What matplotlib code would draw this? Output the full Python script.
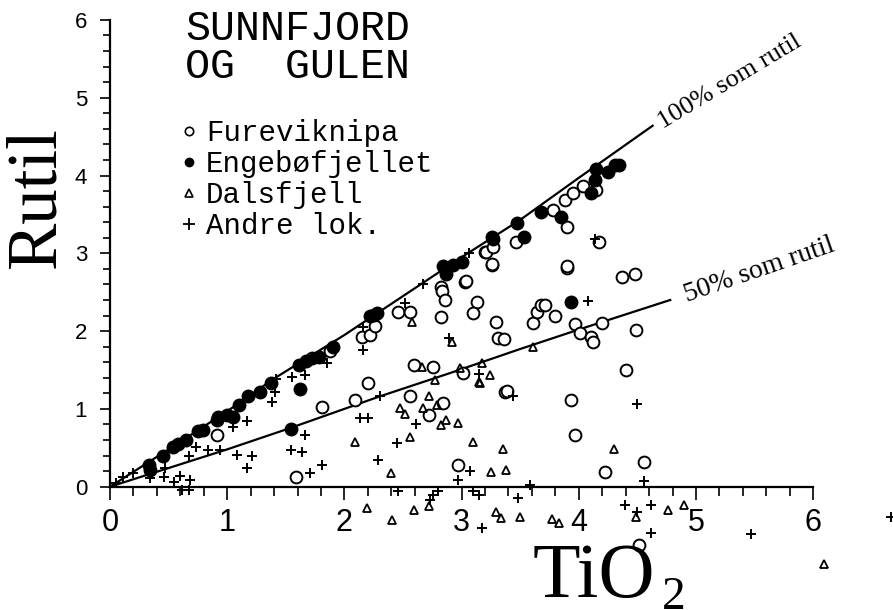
"""Rutil vs TiO2, Sunnfjord og Gulen -- redrawn from the scanned figure."""

import matplotlib

matplotlib.use("Agg")
import matplotlib.pyplot as plt
from matplotlib.lines import Line2D
from matplotlib.ticker import FixedLocator

# --- data (TiO2, Rutil) -----------------------------------------------------
fure_x = [0.91, 1.59, 1.81, 1.88, 2.09, 2.20, 2.15, 2.22, 2.26, 2.46, 2.56,
          2.82, 2.83, 2.86, 2.82, 3.03, 3.13, 3.10, 3.20, 3.26, 3.29, 3.31,
          2.59, 2.76, 3.01, 2.56, 2.72, 2.84, 3.37, 2.97, 3.90, 4.17, 4.37,
          4.48, 3.36, 3.61, 3.64, 3.68, 3.71, 3.80, 3.97, 4.01, 4.10, 4.12,
          4.20, 4.49, 4.40, 3.93, 3.97, 3.39, 3.90, 3.88, 3.95, 4.04, 4.15,
          3.78, 3.46, 3.21, 3.27, 3.26, 3.90, 4.22, 4.56, 4.51, 3.04]
fure_y = [0.66, 0.13, 1.03, 1.74, 1.11, 1.33, 1.93, 1.95, 2.06, 2.25, 2.25,
          2.57, 2.51, 2.40, 2.18, 2.63, 2.38, 2.23, 3.02, 2.85, 2.12, 1.91,
          1.56, 1.54, 1.46, 1.17, 0.92, 1.08, 1.22, 0.28, 2.81, 3.15, 2.70,
          2.73, 1.90, 2.11, 2.25, 2.34, 2.34, 2.20, 2.09, 1.98, 1.93, 1.86,
          2.11, 2.02, 1.50, 1.11, 0.66, 1.23, 3.34, 3.68, 3.77, 3.86, 3.82,
          3.56, 3.15, 3.02, 3.08, 2.86, 2.84, 0.19, 0.32, -0.75, 2.64]

enge_x = [0.33, 0.34, 0.45, 0.54, 0.58, 0.65, 0.75, 0.79, 0.91, 0.92, 1.00,
          1.05, 1.10, 1.18, 1.28, 1.37, 1.62, 1.54, 1.61, 1.67, 1.72, 1.78,
          1.90, 2.22, 2.28, 2.25, 2.87, 2.93, 3.00, 2.87, 2.84, 3.27, 3.26,
          3.47, 3.53, 3.68, 3.85, 4.10, 4.14, 4.15, 4.25, 4.31, 4.34, 3.93]
enge_y = [0.28, 0.21, 0.39, 0.51, 0.55, 0.60, 0.71, 0.73, 0.86, 0.90, 0.92,
          0.90, 1.05, 1.16, 1.22, 1.33, 1.26, 0.74, 1.56, 1.62, 1.66, 1.67,
          1.80, 2.19, 2.23, 2.21, 2.81, 2.85, 2.89, 2.74, 2.84, 3.19, 3.21,
          3.39, 3.21, 3.53, 3.47, 3.77, 3.94, 4.09, 4.05, 4.13, 4.13, 2.38]

dals_x = [2.09, 2.40, 2.47, 2.52, 2.56, 2.72, 2.67, 2.82, 2.87, 2.97, 2.79,
          2.58, 2.66, 2.77, 3.10, 3.35, 3.25, 3.38, 3.16, 3.61, 3.17, 2.99,
          3.15, 3.24, 2.92, 4.30, 2.19, 2.41, 2.59, 2.72, 3.29, 3.34, 3.50,
          3.77, 3.83, 4.49, 4.76, 4.90, 6.09]
dals_y = [0.58, 0.17, 1.01, 0.94, 0.64, 1.16, 1.01, 0.79, 0.86, 0.82, 1.05,
          2.12, 1.54, 1.37, 0.57, 0.49, 0.19, 0.21, 1.33, 1.80, 1.59, 1.52,
          1.35, 1.43, 1.86, 0.48, -0.28, -0.43, -0.30, -0.25, -0.32, -0.40,
          -0.39, -0.42, -0.47, -0.39, -0.30, -0.24, -0.99]

andre_x = [0.05, 0.11, 0.20, 0.34, 0.47, 0.46, 0.60, 0.55, 0.68, 0.67, 0.61,
           0.67, 0.73, 0.84, 0.94, 1.05, 1.17, 1.08, 1.21, 1.17, 1.38, 1.41,
           1.42, 1.55, 1.66, 1.54, 1.64, 1.66, 1.71, 1.81, 1.85, 2.16, 2.16,
           2.13, 2.20, 2.29, 2.30, 2.45, 2.61, 2.46, 2.73, 2.76, 2.80, 2.52,
           2.67, 2.89, 3.06, 2.97, 3.07, 3.10, 3.15, 3.17, 3.48, 3.58, 4.39,
           4.50, 4.62, 4.62, 4.56, 4.50, 5.47, 6.66, 4.08, 3.15, 3.44, 4.14]
andre_y = [0.05, 0.13, 0.17, 0.11, 0.24, 0.13, 0.14, 0.06, 0.08, -0.04, -0.04,
           0.39, 0.51, 0.47, 0.47, 0.77, 0.84, 0.41, 0.39, 0.24, 1.09, 1.22,
           1.39, 1.41, 1.44, 0.47, 0.45, 0.66, 0.17, 0.28, 1.59, 2.05, 1.76,
           0.88, 0.88, 0.34, 1.16, 0.56, 0.81, -0.05, -0.17, -0.11, -0.05, 2.36,
           2.61, 1.91, 3.01, 0.09, 0.20, -0.06, -0.11, -0.53, -0.14, 0.02, -0.24,
           -0.32, -0.24, -0.59, 0.07, 1.06, -0.61, -0.39, 2.39, 1.45, 1.16, 3.19]

# reference curves
full_x = [0.0, 0.5, 1.0, 1.4, 2.0, 2.5, 3.0, 3.5, 4.0, 4.63]
full_y = [0.0, 0.48, 0.97, 1.39, 1.95, 2.45, 2.95, 3.43, 3.97, 4.64]
half_x = [0.0, 0.5, 1.0, 1.53, 2.3, 2.9, 3.5, 4.0, 4.78]
half_y = [0.0, 0.24, 0.48, 0.75, 1.16, 1.46, 1.77, 2.02, 2.40]

groups = ["Fureviknipa", "Engebøfjellet", "Dalsfjell", "Andre lok."]
major_ticks = [0, 1, 2, 3, 4, 5, 6]
minor_ticks = [i / 5 for i in range(31)]

MONO = "Liberation Mono"
SERIF = "Liberation Serif"
SANS = "Liberation Sans"


def main():
    fig = plt.figure(figsize=(8.93, 6.10), dpi=100)
    ax = fig.add_axes([0, 0, 1, 1])
    ax.set_xlim(-0.939, 6.681)
    ax.set_ylim(-1.585, 6.256)

    for side in ("top", "right"):
        ax.spines[side].set_visible(False)
    for side in ("left", "bottom"):
        ax.spines[side].set_position(("data", 0))
        ax.spines[side].set_bounds(0, 6)
        ax.spines[side].set_linewidth(1.6)

    for axis in (ax.xaxis, ax.yaxis):
        axis.set_major_locator(FixedLocator(major_ticks))
        axis.set_minor_locator(FixedLocator(minor_ticks))
    ax.tick_params(axis="x", which="major", direction="out", length=9.5,
                   width=1.2, pad=6, labelsize=22)
    ax.tick_params(axis="x", which="minor", direction="out", length=6.5, width=1.2)
    ax.tick_params(axis="y", which="major", direction="out", length=7.5,
                   width=1.2, pad=9, labelsize=16)
    ax.tick_params(axis="y", which="minor", direction="out", length=5, width=1.2)
    for lab in ax.get_xticklabels() + ax.get_yticklabels():
        lab.set_family(SANS)

    ax.plot(full_x, full_y, color="black", lw=1.6)
    ax.plot(half_x, half_y, color="black", lw=1.6)

    ax.plot(fure_x, fure_y, "o", ms=8.5, mfc="white", mec="black", mew=1.4,
            clip_on=False)
    ax.plot(enge_x, enge_y, "o", ms=9, mfc="black", mec="black", mew=1.0,
            clip_on=False)
    ax.plot(dals_x, dals_y, "^", ms=5.5, mfc="none", mec="black", mew=1.3,
            clip_on=False)
    ax.plot(andre_x, andre_y, "+", ms=7, mec="black", mew=1.4, clip_on=False)

    # curve labels
    ax.text(4.72, 4.60, "100% som rutil", family=SERIF, fontsize=19,
            rotation=31, rotation_mode="anchor", ha="left", va="baseline")
    ax.text(4.92, 2.38, "50% som rutil", family=SERIF, fontsize=20,
            rotation=19, rotation_mode="anchor", ha="left", va="baseline")

    # title block
    fig.text(185 / 893, 1 - 40 / 610, "SUNNFJORD", family=MONO, fontsize=30,
             va="baseline")
    fig.text(185 / 893, 1 - 78 / 610, "OG  GULEN", family=MONO, fontsize=30,
             va="baseline")

    # legend
    handles = [
        Line2D([], [], ls="none", marker="o", ms=6, mfc="white", mec="black", mew=1.2),
        Line2D([], [], ls="none", marker="o", ms=6, mfc="black", mec="black"),
        Line2D([], [], ls="none", marker="^", ms=6, mfc="none", mec="black", mew=1.2),
        Line2D([], [], ls="none", marker="+", ms=9, mec="black", mew=1.3),
    ]
    fig.legend(handles, groups, loc="upper left",
               bbox_to_anchor=(181 / 893, 1 - 119 / 610), frameon=False,
               prop={"family": MONO, "size": 21}, handlelength=0.55,
               handletextpad=0.3, labelspacing=0.1, borderpad=0,
               borderaxespad=0)

    # axis titles
    fig.text(37 / 893, 1 - 197 / 610, "Rutil", family=SERIF, fontsize=51,
             rotation=90, ha="center", va="center")
    fig.text(533 / 893, 13 / 610, "TiO", family=SERIF, fontsize=56,
             ha="left", va="baseline")
    fig.text(662 / 893, 1 / 610, "2", family=SERIF, fontsize=34,
             ha="left", va="baseline")

    fig.savefig("out.png", dpi=100)


if __name__ == "__main__":
    main()
